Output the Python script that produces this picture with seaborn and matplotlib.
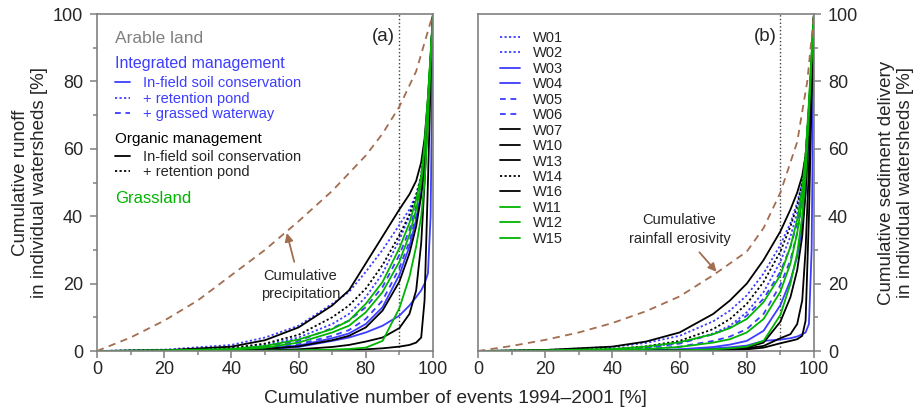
import pandas as pd
import matplotlib
matplotlib.use('Agg')
import matplotlib.pyplot as plt
from matplotlib.lines import Line2D
from matplotlib.ticker import MultipleLocator
import seaborn as sns

sns.set_style('ticks')
plt.rcParams['font.family'] = ['Liberation Sans', 'DejaVu Sans']

# cumulative number of events [%] at which the curves were read
events = [0, 20, 40, 50, 60, 70, 75, 80, 85, 90, 93, 95, 96.5, 97.5, 98.5, 99.3, 100]

# (a) cumulative runoff [%]
runoff_w01 = [0, 0.4, 1.8, 4, 7.5, 14, 17.5, 23.5, 30, 37.4, 42, 46.5, 52, 59, 71, 85, 100]
runoff_w02 = [0, 0.2, 0.7, 1.8, 4, 8, 11, 16, 23, 33, 40, 46, 52, 60, 73, 86, 100]
runoff_w03 = [0, 0.1, 0.3, 0.7, 1.6, 3.8, 5.2, 8, 13, 22.6, 31, 39, 47, 57, 73, 87, 100]
runoff_w04 = [0, 0.1, 0.2, 0.5, 1.2, 3, 4, 5.5, 7.5, 10.5, 13.5, 16, 18, 20, 23, 40, 100]
runoff_w05 = [0, 0.1, 0.5, 1.2, 3, 6.8, 9, 13, 19, 28.5, 36, 43, 50, 59, 73, 87, 100]
runoff_w06 = [0, 0.1, 0.3, 0.8, 2, 4.5, 6.2, 9.5, 15, 24.6, 32.5, 40, 48, 57, 72, 86, 100]
runoff_w07 = [0, 0.2, 1.3, 3.2, 7, 13.5, 18, 26, 34, 42, 46.5, 50.5, 56, 63, 75, 87, 100]
runoff_w10 = [0, 0.1, 0.3, 0.6, 1.4, 3.2, 4.5, 7, 12, 20.6, 29, 37, 46, 56, 72, 86, 100]
runoff_w13 = [0, 0, 0.1, 0.2, 0.5, 1.2, 1.8, 2.8, 4, 6.8, 11, 18, 32, 50, 70, 86, 100]
runoff_w14 = [0, 0.2, 0.9, 2.2, 4.8, 10, 13.5, 18.5, 25.5, 34.4, 40.5, 46, 52, 60, 72, 86, 100]
runoff_w16 = [0, 0, 0, 0.05, 0.1, 0.2, 0.3, 0.5, 0.8, 1.3, 1.8, 2.5, 4, 15, 50, 80, 100]
runoff_w11 = [0, 0.2, 0.6, 1.5, 3.4, 6.5, 9, 14, 20.5, 30.5, 38, 45, 52, 61, 75, 88, 100]
runoff_w12 = [0, 0.1, 0.4, 1, 2.5, 5.5, 7.5, 11.5, 17.5, 26.5, 34.5, 42, 50, 60, 75, 88, 100]
runoff_w15 = [0, 0, 0.1, 0.1, 0.2, 0.4, 0.6, 1, 3, 12.7, 22, 31, 40, 50, 68, 85, 100]

# (b) cumulative sediment delivery [%]
sed_w01 = [0, 0.3, 1.2, 2.4, 4.5, 8.8, 12, 16.5, 23, 31.5, 38, 44, 50, 57, 71, 86, 100]
sed_w02 = [0, 0.1, 0.5, 1.1, 2.4, 5.2, 7.5, 11.5, 17.5, 26.5, 34, 41, 48, 56, 71, 86, 100]
sed_w03 = [0, 0, 0.1, 0.2, 0.5, 1.2, 1.9, 3, 6, 13.6, 21, 28, 37, 47, 66, 85, 100]
sed_w04 = [0, 0, 0.1, 0.2, 0.4, 0.8, 1.1, 1.6, 3, 3.4, 3.8, 4.3, 5, 5.5, 8, 30, 100]
sed_w05 = [0, 0.1, 0.4, 1, 2.2, 5, 7, 10.5, 15.5, 23.5, 31, 38, 46, 55, 70, 86, 100]
sed_w06 = [0, 0.1, 0.3, 0.6, 1.3, 3, 4.3, 6.5, 11, 19.6, 27, 35, 44, 53, 69, 85, 100]
sed_w07 = [0, 0.3, 1.3, 2.8, 5.5, 11, 15, 20, 27, 35.5, 42, 47, 52, 58, 72, 86, 100]
sed_w10 = [0, 0, 0.1, 0.1, 0.2, 0.4, 0.6, 1, 2.5, 8.7, 16, 24, 34, 47, 68, 86, 100]
sed_w13 = [0, 0, 0, 0.05, 0.1, 0.3, 0.5, 0.8, 1.5, 3.8, 5, 8, 15, 30, 55, 80, 100]
sed_w14 = [0, 0.1, 0.6, 1.4, 3, 6.5, 9.5, 14, 20.5, 29.5, 37, 43, 50, 58, 72, 86, 100]
sed_w16 = [0, 0, 0, 0.05, 0.1, 0.2, 0.3, 0.5, 1, 2.3, 3, 3.5, 4.5, 9, 40, 75, 100]
sed_w11 = [0, 0.2, 0.6, 1.3, 2.6, 5, 6.8, 9.5, 14.5, 22.5, 31, 39, 48, 58, 74, 88, 100]
sed_w12 = [0, 0.1, 0.3, 0.6, 1.2, 2.5, 3.5, 5.5, 9.5, 17.6, 26, 35, 45, 56, 73, 88, 100]
sed_w15 = [0, 0, 0.1, 0.1, 0.2, 0.5, 0.8, 1.3, 3, 10.7, 20, 29, 40, 52, 70, 87, 100]

# brown reference curves
precip_x = [0, 10, 20, 30, 40, 50, 60, 70, 80, 85, 90, 95, 100]
precip_y = [0, 4, 9, 15, 22.5, 30, 38.5, 47.5, 58, 64.5, 72.5, 83, 100]
erosiv_x = [0, 10, 20, 30, 40, 50, 60, 70, 80, 85, 90, 95, 98, 100]
erosiv_y = [0, 1.5, 3.3, 5.5, 8.3, 11.8, 16.2, 22.5, 29.5, 36.5, 47, 62, 80, 100]

sheds = ['W01', 'W02', 'W03', 'W04', 'W05', 'W06', 'W07', 'W10', 'W13', 'W14', 'W16', 'W11', 'W12', 'W15']
runoff = [runoff_w01, runoff_w02, runoff_w03, runoff_w04, runoff_w05, runoff_w06, runoff_w07,
          runoff_w10, runoff_w13, runoff_w14, runoff_w16, runoff_w11, runoff_w12, runoff_w15]
sediment = [sed_w01, sed_w02, sed_w03, sed_w04, sed_w05, sed_w06, sed_w07,
            sed_w10, sed_w13, sed_w14, sed_w16, sed_w11, sed_w12, sed_w15]

BLUE = '#3d3dff'
GREEN = '#00b400'
BROWN = '#a36d50'
DOT = (1.2, 1.3)
DASH = (3.2, 2.6)

colors = {w: BLUE for w in sheds[:6]}
colors.update({w: 'black' for w in ['W07', 'W10', 'W13', 'W14', 'W16']})
colors.update({w: GREEN for w in ['W11', 'W12', 'W15']})
dashes = {w: '' for w in sheds}
dashes.update({'W01': DOT, 'W02': DOT, 'W14': DOT, 'W05': DASH, 'W06': DASH})


def long_table(values):
    rows = []
    for w, ys in zip(sheds, values):
        for x, y in zip(events, ys):
            rows.append({'events': x, 'value': y, 'ws': w})
    return pd.DataFrame(rows)


fig = plt.figure(figsize=(9.21, 4.13), dpi=100)
ax1 = fig.add_axes([0.1053, 0.1501, 0.3648, 0.816])
ax2 = fig.add_axes([0.519, 0.1501, 0.3648, 0.816])

for ax, vals, legend in [(ax1, runoff, False), (ax2, sediment, True)]:
    sns.lineplot(data=long_table(vals), x='events', y='value', hue='ws', style='ws',
                 hue_order=sheds, style_order=sheds, palette=colors, dashes=dashes,
                 estimator=None, sort=False, linewidth=1.3, legend=legend, ax=ax)
    ax.axvline(90, color='0.25', linestyle=':', linewidth=1.0, zorder=0)
    ax.set_xlim(0, 100)
    ax.set_ylim(0, 100)
    ax.xaxis.set_major_locator(MultipleLocator(20))
    ax.xaxis.set_minor_locator(MultipleLocator(10))
    ax.yaxis.set_major_locator(MultipleLocator(20))
    ax.yaxis.set_minor_locator(MultipleLocator(10))
    ax.tick_params(which='major', length=5, width=1.1, color='0.5', labelsize=13)
    ax.tick_params(which='minor', length=3, width=1.1, color='0.5')
    ax.tick_params(axis='x', which='major', pad=2)
    ax.tick_params(axis='y', which='major', pad=5)
    for s in ax.spines.values():
        s.set_color('0.5')
        s.set_linewidth(1.2)
    ax.set_xlabel('')

sns.lineplot(x=precip_x, y=precip_y, color=BROWN, linestyle=(0, (4, 3)), linewidth=1.3, ax=ax1)
sns.lineplot(x=erosiv_x, y=erosiv_y, color=BROWN, linestyle=(0, (4, 3)), linewidth=1.3, ax=ax2)

# right panel y axis on the right
ax2.yaxis.tick_right()
ax2.yaxis.set_label_position('right')

ax1.set_ylabel('Cumulative runoff\nin individual watersheds [%]', fontsize=13.5, linespacing=1.15)
ax1.yaxis.set_label_coords(-0.2, 0.5)
ax1.yaxis.label.set_va('center')
ax2.set_ylabel('Cumulative sediment delivery\nin individual watersheds [%]', fontsize=13.5, linespacing=1.15)
ax2.yaxis.set_label_coords(1.243, 0.5)
ax2.yaxis.label.set_va('center')

fig.text(0.494, 0.036, 'Cumulative number of events 1994\u20132001 [%]', ha='center', va='center', fontsize=13.8)

ax1.text(0.851, 0.932, '(a)', transform=ax1.transAxes, ha='center', va='center', fontsize=13.5)
ax2.text(0.854, 0.932, '(b)', transform=ax2.transAxes, ha='center', va='center', fontsize=13.5)

# annotations
ax1.annotate('Cumulative\nprecipitation', xy=(56.5, 35), xytext=(60.5, 19.5),
             ha='center', va='center', fontsize=10.5, linespacing=1.4,
             arrowprops=dict(arrowstyle='-|>', color=BROWN, lw=1.3, mutation_scale=12, shrinkA=3, shrinkB=0))
ax2.annotate('Cumulative\nrainfall erosivity', xy=(71, 23.5), xytext=(60, 36),
             ha='center', va='center', fontsize=10.5, linespacing=1.4,
             arrowprops=dict(arrowstyle='-|>', color=BROWN, lw=1.3, mutation_scale=12, shrinkA=3, shrinkB=0))

# left panel legend
ax1.text(0.054, 0.926, 'Arable land', transform=ax1.transAxes, color='0.5', fontsize=12.5, va='center')
ax1.text(0.054, 0.852, 'Integrated management', transform=ax1.transAxes, color=BLUE, fontsize=11.5, va='center')
ax1.text(0.054, 0.628, 'Organic management', transform=ax1.transAxes, color='black', fontsize=11, va='center')
ax1.text(0.054, 0.452, 'Grassland', transform=ax1.transAxes, color=GREEN, fontsize=12, va='center')

h_int = [Line2D([], [], color=BLUE, lw=1.3),
         Line2D([], [], color=BLUE, lw=1.3, dashes=DOT),
         Line2D([], [], color=BLUE, lw=1.3, dashes=DASH)]
leg1 = ax1.legend(h_int, ['In-field soil conservation', '+ retention pond', '+ grassed waterway'],
                  loc='upper left', bbox_to_anchor=(0.054, 0.815), frameon=False, fontsize=10.5,
                  handlelength=1.0, handletextpad=0.9, labelspacing=0.1, borderpad=0, borderaxespad=0,
                  labelcolor=BLUE)
ax1.add_artist(leg1)
h_org = [Line2D([], [], color='black', lw=1.3),
         Line2D([], [], color='black', lw=1.3, dashes=DOT)]
ax1.legend(h_org, ['In-field soil conservation', '+ retention pond'],
           loc='upper left', bbox_to_anchor=(0.054, 0.597), frameon=False, fontsize=10.5,
           handlelength=1.0, handletextpad=0.9, labelspacing=0.1, borderpad=0, borderaxespad=0)

# right panel legend
sns.move_legend(ax2, 'upper left', bbox_to_anchor=(0.065, 0.95), frameon=False, fontsize=10.5,
                handlelength=1.4, handletextpad=0.9, labelspacing=0.1, borderpad=0, borderaxespad=0,
                title='')

fig.savefig('out.png', dpi=100)
